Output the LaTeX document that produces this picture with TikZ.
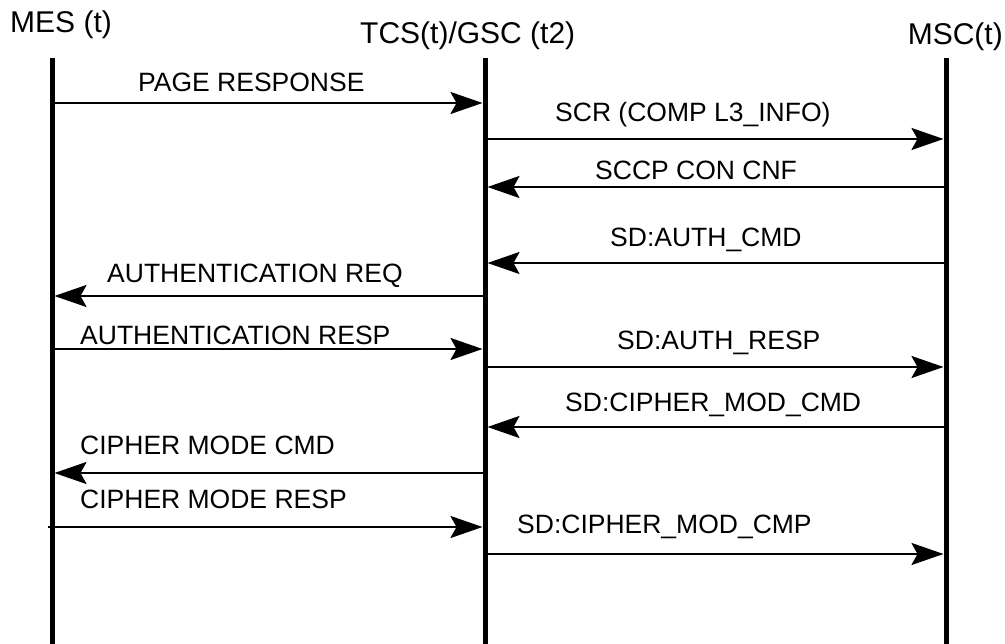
\documentclass[tikz,border=0pt]{standalone}
\usepackage{fontspec}
\setmainfont{Liberation Sans}
\usetikzlibrary{arrows.meta}

\tikzset{
  lifeline/.style={line width=5pt},
  msg/.style={line width=2.5pt, -{Stealth[length=32pt,width=22pt,inset=6pt]}, shorten >=2.5pt},
  head/.style={inner sep=0pt, font=\fontsize{30pt}{36pt}\selectfont},
  lbl/.style={inner sep=0pt, anchor=base west, font=\fontsize{26.5pt}{32pt}\selectfont},
}

\begin{document}
\begin{tikzpicture}[x=1pt,y=-1pt]
\useasboundingbox (0,0) rectangle (1005,644);

% participants
\node[head, anchor=base west] (hmes) at (10,33) {MES (t)};
\node[head, anchor=base west] (htcs) at (360,44) {TCS(t)/GSC (t2)};
\node[head, anchor=base east] (hmsc) at (1003,45) {MSC(t)};

% lifelines
\coordinate (mes) at (52,58);
\coordinate (tcs) at (485,58);
\coordinate (msc) at (946,58);
\coordinate (bottom) at (0,644);
\foreach \p in {mes,tcs,msc}
  \draw[lifeline] (\p) -- (\p |- bottom);

% messages
\foreach \y/\src/\dst/\ext in {
    103/mes/tcs/0, 139/tcs/msc/0, 187/msc/tcs/0, 263/msc/tcs/0,
    296/tcs/mes/0, 349/mes/tcs/0, 367/tcs/msc/0, 427/msc/tcs/0,
    473/tcs/mes/0, 527/mes/tcs/4, 554/tcs/msc/0} {
  \coordinate (row) at (0,\y);
  \draw[msg, shorten <=-\ext pt] (\src |- row) -- (\dst |- row);
}

% message labels
\node[lbl] (l1)  at (138,92)  {PAGE RESPONSE};
\node[lbl] (l2)  at (555,122) {SCR (COMP L3\_INFO)};
\node[lbl] (l3)  at (595,180) {SCCP CON CNF};
\node[lbl] (l4)  at (610,247) {SD:AUTH\_CMD};
\node[lbl] (l5)  at (107,283) {AUTHENTICATION REQ};
\node[lbl] (l6)  at (80,345)  {AUTHENTICATION RESP};
\node[lbl] (l7)  at (617,350) {SD:AUTH\_RESP};
\node[lbl] (l8)  at (565,412) {SD:CIPHER\_MOD\_CMD};
\node[lbl] (l9)  at (80,455)  {CIPHER MODE CMD};
\node[lbl] (l10) at (80,508)  {CIPHER MODE RESP};
\node[lbl] (l11) at (517,533) {SD:CIPHER\_MOD\_CMP};
\end{tikzpicture}
\end{document}
